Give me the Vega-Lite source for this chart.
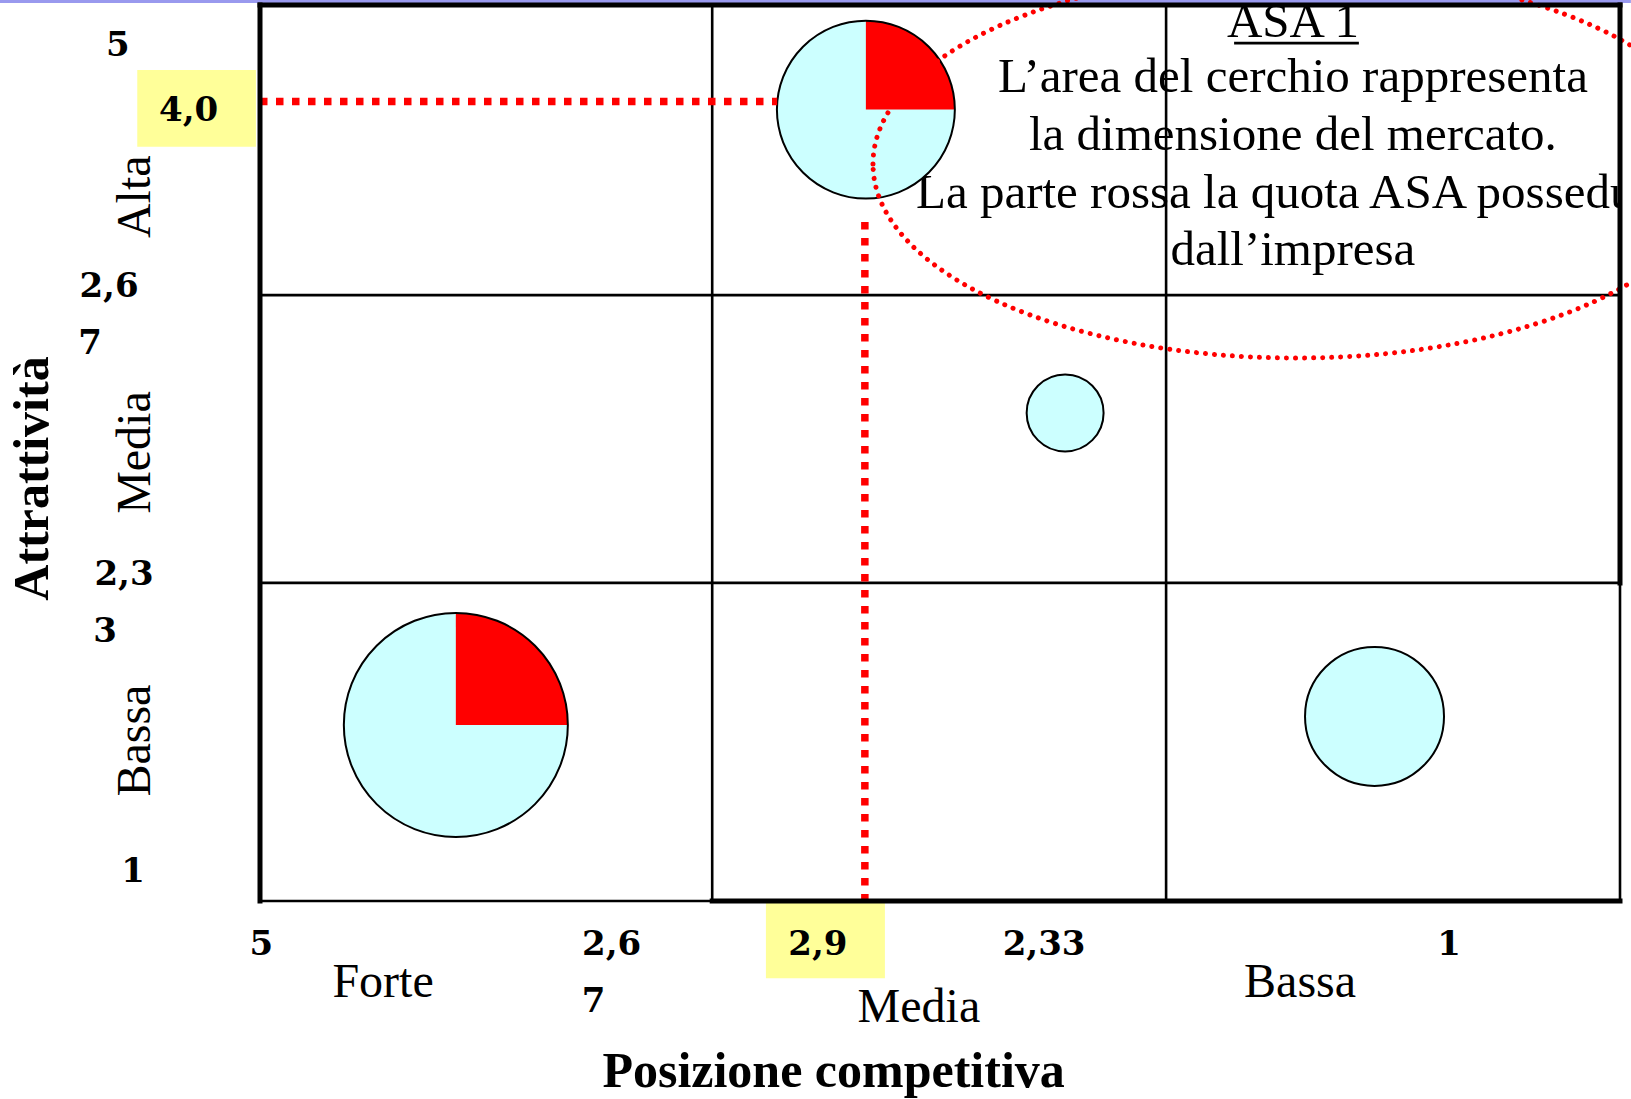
{
  "$schema": "https://vega.github.io/schema/vega-lite/v6.json",
  "width": 1360,
  "height": 896,
  "autosize": {"type": "none"},
  "padding": {"left": 260, "top": 5, "right": 11, "bottom": 198},
  "background": "white",
  "config": {"view": {"stroke": null}},
  "datasets": {
    "bordi": [
      {"tipo": "pagina", "x": 5.765, "x2": 0.968, "y": 5.0156, "y2": 5.0156},
      {"tipo": "spesso", "x": 5, "x2": 5, "y": 1, "y2": 5},
      {"tipo": "spesso", "x": 5, "x2": 1, "y": 5, "y2": 5},
      {"tipo": "spesso", "x": 1, "x2": 1, "y": 5, "y2": 2.42},
      {"tipo": "spesso", "x": 3.67, "x2": 1, "y": 1, "y2": 1},
      {"tipo": "sottile", "x": 5, "x2": 3.67, "y": 1, "y2": 1},
      {"tipo": "sottile", "x": 1, "x2": 1, "y": 2.42, "y2": 1},
      {"tipo": "sottile", "x": 3.67, "x2": 3.67, "y": 1, "y2": 5},
      {"tipo": "sottile", "x": 2.335, "x2": 2.335, "y": 1, "y2": 5},
      {"tipo": "sottile", "x": 5, "x2": 1, "y": 3.705, "y2": 3.705},
      {"tipo": "sottile", "x": 5, "x2": 1, "y": 2.42, "y2": 2.42},
      {"tipo": "sottolineatura", "x": 2.135, "x2": 1.768, "y": 4.83, "y2": 4.83}
    ],
    "guide": [
      {"valore": "4,0", "x": 5, "x2": 3.479, "y": 4.569, "y2": 4.569},
      {"valore": "2,9", "x": 3.221, "x2": 3.221, "y": 4.031, "y2": 1}
    ],
    "riquadri": [
      {"etichetta": "4,0", "x": 5.361, "x2": 5.012, "y": 4.71, "y2": 4.367},
      {"etichetta": "2,9", "x": 3.512, "x2": 3.162, "y": 0.997, "y2": 0.655}
    ],
    "asa": [
      {"asa": "ASA 1", "x": 3.218, "y": 4.533, "dimensione": 63.1, "quota": 0.25},
      {"asa": "ASA 2", "x": 2.632, "y": 3.179, "dimensione": 11.8, "quota": 0},
      {"asa": "ASA 3", "x": 4.424, "y": 1.786, "dimensione": 100, "quota": 0.25},
      {"asa": "ASA 4", "x": 1.722, "y": 1.824, "dimensione": 38.5, "quota": 0}
    ],
    "ellisse": [
      {"nota": "ASA 1", "x": 1.953, "y": 4.29}
    ],
    "testi": [
      {"tipo": "numero", "testo": "5", "x": 5.418, "y": 4.817},
      {"tipo": "numero", "testo": "4,0", "x": 5.21, "y": 4.525},
      {"tipo": "numero", "testo": "2,6", "x": 5.444, "y": 3.739},
      {"tipo": "numero", "testo": "7", "x": 5.5, "y": 3.487},
      {"tipo": "numero", "testo": "2,3", "x": 5.4, "y": 2.455},
      {"tipo": "numero", "testo": "3", "x": 5.456, "y": 2.201},
      {"tipo": "numero", "testo": "1", "x": 5.3735, "y": 1.129},
      {"tipo": "numero", "testo": "5", "x": 4.996, "y": 0.804},
      {"tipo": "numero", "testo": "2,6", "x": 3.966, "y": 0.804},
      {"tipo": "numero", "testo": "7", "x": 4.019, "y": 0.549},
      {"tipo": "numero", "testo": "2,9", "x": 3.359, "y": 0.804},
      {"tipo": "numero", "testo": "2,33", "x": 2.694, "y": 0.804},
      {"tipo": "numero", "testo": "1", "x": 1.503, "y": 0.804},
      {"tipo": "categoria", "testo": "Forte", "x": 4.638, "y": 0.573},
      {"tipo": "categoria", "testo": "Media", "x": 3.062, "y": 0.461},
      {"tipo": "categoria", "testo": "Bassa", "x": 1.941, "y": 0.573},
      {"tipo": "categoriaV", "testo": "Alta", "x": 5.3235, "y": 4.144},
      {"tipo": "categoriaV", "testo": "Media", "x": 5.3235, "y": 3.002},
      {"tipo": "categoriaV", "testo": "Bassa", "x": 5.3235, "y": 1.716},
      {"tipo": "titolo", "testo": "Posizione competitiva", "x": 3.313, "y": 0.171},
      {"tipo": "titoloV", "testo": "Attrattività", "x": 5.6235, "y": 2.886},
      {"tipo": "nota", "testo": "ASA 1", "x": 1.962, "y": 4.855},
      {"tipo": "nota", "testo": "L’area del cerchio rappresenta", "x": 1.962, "y": 4.613},
      {"tipo": "nota", "testo": "la dimensione del mercato.", "x": 1.962, "y": 4.353},
      {"tipo": "nota", "testo": "La parte rossa la quota ASA posseduta", "x": 1.962, "y": 4.094},
      {"tipo": "nota", "testo": "dall’impresa", "x": 1.962, "y": 3.839}
    ]
  },
  "encoding": {
    "x": {"field": "x", "type": "quantitative", "scale": {"domain": [5, 1], "zero": false, "nice": false}, "axis": null},
    "y": {"field": "y", "type": "quantitative", "scale": {"domain": [1, 5], "zero": false, "nice": false}, "axis": null}
  },
  "layer": [
    {
      "data": {"name": "bordi"},
      "transform": [{"filter": "datum.tipo === 'pagina'"}],
      "mark": {"type": "rule", "color": "#9999EE", "strokeWidth": 3},
      "encoding": {"x2": {"field": "x2"}, "y2": {"field": "y2"}}
    },
    {
      "data": {"name": "riquadri"},
      "mark": {"type": "rect", "color": "#FFFF99"},
      "encoding": {"x2": {"field": "x2"}, "y2": {"field": "y2"}}
    },
    {
      "data": {"name": "bordi"},
      "transform": [{"filter": "datum.tipo === 'sottile' || datum.tipo === 'sottolineatura'"}],
      "mark": {"type": "rule", "color": "black", "strokeWidth": 2.6},
      "encoding": {"x2": {"field": "x2"}, "y2": {"field": "y2"}}
    },
    {
      "data": {"name": "testi"},
      "transform": [{"filter": "datum.tipo === 'nota'"}],
      "mark": {"type": "text", "font": "Liberation Serif", "fontSize": 49, "align": "center", "baseline": "alphabetic", "color": "black", "clip": true},
      "encoding": {"text": {"field": "testo"}}
    },
    {
      "data": {"name": "asa"},
      "mark": {"type": "point", "shape": "circle", "filled": true, "color": "#CCFFFF", "opacity": 1, "strokeWidth": 0},
      "encoding": {"size": {"field": "dimensione", "type": "quantitative", "scale": {"domain": [0, 100], "range": [0, 50176]}, "legend": null}}
    },
    {
      "data": {"name": "asa"},
      "transform": [{"filter": "datum.quota > 0"}],
      "mark": {"type": "arc", "color": "#FF0000"},
      "encoding": {
        "theta": {"field": "quota", "type": "quantitative", "scale": {"domain": [0, 1], "range": [0, 6.283185]}, "stack": false},
        "radius": {"field": "dimensione", "type": "quantitative", "scale": {"type": "sqrt", "zero": true, "domain": [0, 100], "range": [0, 112]}}
      }
    },
    {
      "data": {"name": "asa"},
      "mark": {"type": "point", "shape": "circle", "filled": false, "stroke": "black", "strokeWidth": 2, "opacity": 1},
      "encoding": {"size": {"field": "dimensione", "type": "quantitative", "scale": {"domain": [0, 100], "range": [0, 50176]}, "legend": null}}
    },
    {
      "data": {"name": "guide"},
      "mark": {"type": "rule", "color": "#FF0000", "strokeWidth": 7.5, "strokeDash": [7.5, 8.5], "strokeCap": "butt"},
      "encoding": {"x2": {"field": "x2"}, "y2": {"field": "y2"}}
    },
    {
      "data": {"name": "ellisse"},
      "mark": {"type": "point", "shape": "M -1 0 A 1 0.4586 0 1 1 1 0 A 1 0.4586 0 1 1 -1 0 Z", "size": 715716, "filled": false, "stroke": "#FF0000", "strokeWidth": 5, "strokeDash": [0.01, 9], "strokeCap": "round", "opacity": 1}
    },
    {
      "data": {"name": "testi"},
      "transform": [{"filter": "datum.tipo === 'numero'"}],
      "mark": {"type": "text", "font": "DejaVu Serif", "fontWeight": "bold", "fontSize": 34, "align": "center", "baseline": "middle", "color": "black"},
      "encoding": {"text": {"field": "testo"}}
    },
    {
      "data": {"name": "testi"},
      "transform": [{"filter": "datum.tipo === 'categoria'"}],
      "mark": {"type": "text", "font": "Liberation Serif", "fontSize": 48, "align": "center", "baseline": "alphabetic", "color": "black"},
      "encoding": {"text": {"field": "testo"}}
    },
    {
      "data": {"name": "testi"},
      "transform": [{"filter": "datum.tipo === 'categoriaV'"}],
      "mark": {"type": "text", "font": "Liberation Serif", "fontSize": 48, "align": "center", "baseline": "alphabetic", "angle": 270, "color": "black"},
      "encoding": {"text": {"field": "testo"}}
    },
    {
      "data": {"name": "testi"},
      "transform": [{"filter": "datum.tipo === 'titolo'"}],
      "mark": {"type": "text", "font": "Liberation Serif", "fontWeight": "bold", "fontSize": 50, "align": "center", "baseline": "alphabetic", "color": "black"},
      "encoding": {"text": {"field": "testo"}}
    },
    {
      "data": {"name": "testi"},
      "transform": [{"filter": "datum.tipo === 'titoloV'"}],
      "mark": {"type": "text", "font": "Liberation Serif", "fontWeight": "bold", "fontSize": 50, "align": "center", "baseline": "alphabetic", "angle": 270, "color": "black"},
      "encoding": {"text": {"field": "testo"}}
    },
    {
      "data": {"name": "bordi"},
      "transform": [{"filter": "datum.tipo === 'spesso'"}],
      "mark": {"type": "rule", "color": "black", "strokeWidth": 5, "strokeCap": "square"},
      "encoding": {"x2": {"field": "x2"}, "y2": {"field": "y2"}}
    }
  ]
}
